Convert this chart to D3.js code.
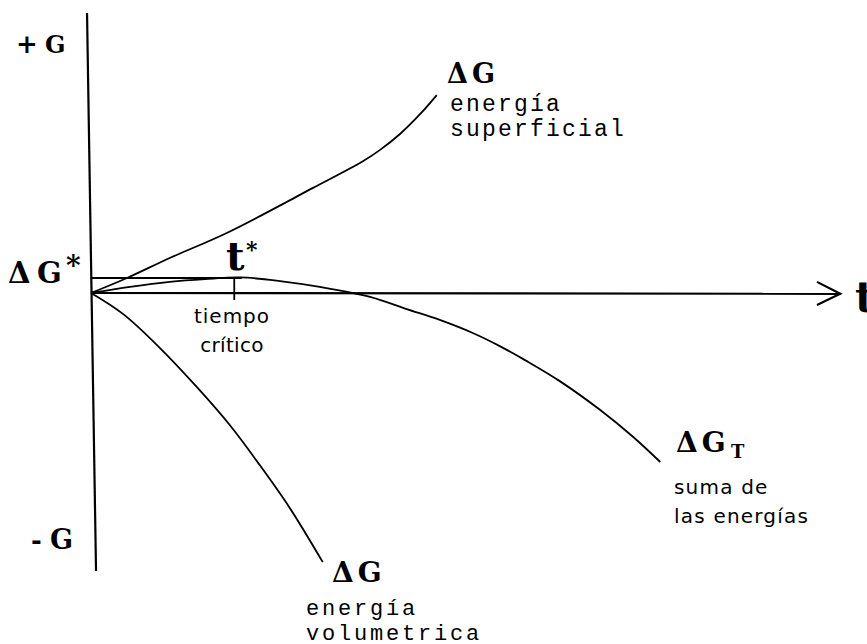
<!DOCTYPE html>
<html>
<head>
<meta charset="utf-8">
<script src="https://cdn.jsdelivr.net/npm/d3@7"></script>
<style>
  body { margin: 0; background: #fff; }
  svg { display: block; }
</style>
</head>
<body>
<svg id="nucleationChart" width="867" height="644"></svg>
<script>
// curves: [t, G]
const surfaceEnergy = [[0, 0], [4.8, 5.4], [10.5, 12.6], [18.1, 21.6], [29.6, 37.8], [36.3, 47.5], [38.5, 51.4], [41.2, 57.2], [43.9, 64.4], [46.1, 71.2]];
const volumeEnergy = [[0, 0], [4.3, -7.6], [9.2, -19.8], [14.1, -33.8], [18.5, -47.5], [22.5, -61.9], [26.5, -77.3], [30.9, -96.8]];
const totalEnergy = [[0, 0], [5.2, 2.2], [10.5, 4.0], [15.2, 5.0], [19.9, 5.6], [25.2, 4.3], [30.5, 2.2], [37.2, -1.4], [42.1, -5.8], [46.5, -9.7], [50.9, -14.4], [54.5, -19.1], [58.1, -24.5], [62.5, -31.7], [67.9, -42.1], [72.3, -51.8], [75.9, -60.8]];
const criticalTime = 19.1;
const criticalG = 5.4;
const tMax = 100;
const gRange = [-100, 100];

const svg = d3.select("#nucleationChart");

const x = d3.scaleLinear().domain([0, tMax]).range([91, 841]);
const y = d3.scaleLinear().domain(gRange).range([571, 15]);

const line = d3.line()
    .x(d => x(d[0]))
    .y(d => y(d[1]))
    .curve(d3.curveCatmullRom.alpha(0.5));

const axes = svg.append("g")
    .attr("stroke", "#000")
    .attr("stroke-width", 2.2)
    .attr("fill", "none");

// vertical G axis (slightly slanted, as drawn)
axes.append("line")
    .attr("x1", x(-0.53)).attr("y1", y(100.7))
    .attr("x2", x(0.67)).attr("y2", y(-100));

// time axis with open arrow head
axes.append("line")
    .attr("x1", x(0)).attr("y1", y(0))
    .attr("x2", x(99.9)).attr("y2", y(-0.3));

axes.append("path")
    .attr("d", d3.line()([[x(96.8), y(4)], [x(99.9), y(-0.3)], [x(96.8), y(-4.3)]]));

// critical energy level and critical time tick
axes.append("line")
    .attr("stroke-width", 1.8)
    .attr("x1", x(0)).attr("y1", y(criticalG))
    .attr("x2", x(criticalTime + 1)).attr("y2", y(criticalG));

axes.append("line")
    .attr("stroke-width", 1.8)
    .attr("x1", x(criticalTime)).attr("y1", y(criticalG))
    .attr("x2", x(criticalTime)).attr("y2", y(-2.5));

const curves = svg.append("g")
    .attr("stroke", "#000")
    .attr("stroke-width", 1.8)
    .attr("fill", "none");

[surfaceEnergy, volumeEnergy, totalEnergy].forEach(d => {
    curves.append("path").attr("d", line(d));
});

// labels
const bold = "'DejaVu Serif', serif";
const mono = "'Liberation Mono', monospace";
const sans = "'DejaVu Sans', sans-serif";

function label(px, py, txt, font, size, weight, spacing) {
    return svg.append("text")
        .attr("x", px).attr("y", py)
        .style("font-family", font)
        .style("font-size", size + "px")
        .style("font-weight", weight)
        .style("letter-spacing", (spacing || 0) + "px")
        .text(txt);
}

label(16, 53, "+", bold, 26, "bold");
label(45, 53, "G", bold, 24, "bold");
label(31, 549, "-", bold, 26, "bold");
label(50, 549, "G", bold, 27, "bold");

label(8, 283, "Δ", bold, 29, "bold");
label(37, 283, "G", bold, 29, "bold");
label(66, 275, "*", bold, 28, "bold");

label(226, 270, "t", bold, 40, "bold");
label(246, 257, "*", bold, 22, "bold");

label(232, 323, "tiempo", sans, 20, "normal", 1).attr("text-anchor", "middle");
label(232, 352, "crítico", sans, 20, "normal", 0.3).attr("text-anchor", "middle");

label(447, 83, "ΔG", bold, 27, "bold", 4);
label(450, 111, "energía", mono, 23, "normal", 2.2);
label(450, 136, "superficial", mono, 23, "normal", 2.2);

label(676, 452, "ΔG", bold, 28, "bold", 4);
label(731, 458, "T", bold, 18, "bold");
label(674, 494, "suma de", sans, 20, "normal", 1.2);
label(674, 523, "las energías", sans, 20, "normal", 1.2);

label(332, 582, "ΔG", bold, 28, "bold", 4);
label(306, 615, "energía", mono, 22, "normal", 2.8);
label(306, 640, "volumetrica", mono, 22, "normal", 2.8);

label(855, 312, "t", bold, 42, "bold");
</script>
</body>
</html>
